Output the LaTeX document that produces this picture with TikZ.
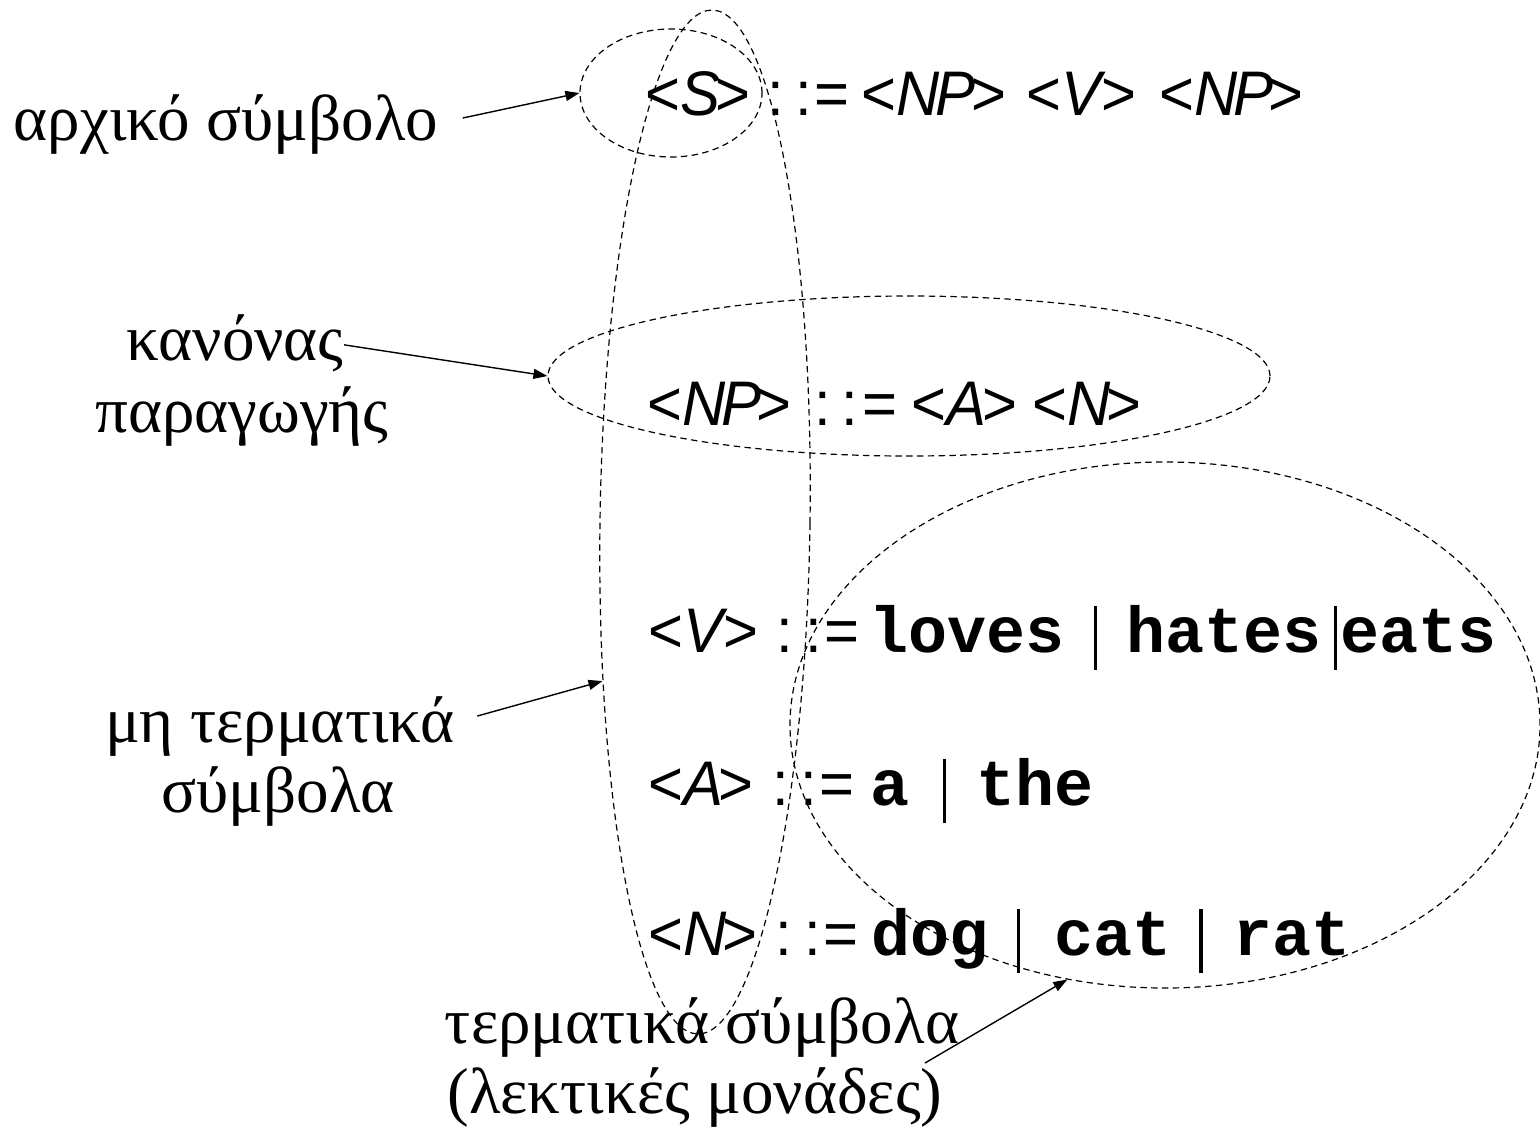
\documentclass[tikz,border=0pt]{standalone}
\usepackage{fontspec}
\setmainfont{Liberation Serif}
\newfontfamily\gramfont[LetterSpace=-7,FakeStretch=0.95]{Liberation Sans}
\newfontfamily\termfont{Liberation Mono}
\usetikzlibrary{arrows.meta,shapes.geometric}
\newcommand{\nt}[1]{<\textit{#1}>}
\newcommand{\tm}[1]{{\termfont\fontsize{32.5}{36}\selectfont\bfseries #1}}
\newcommand{\bbar}{\rule[-9pt]{1.6pt}{32pt}}
\begin{document}
\begin{tikzpicture}[x=0.5pt,y=-0.5pt,
  greek/.style={font=\fontsize{32.5}{36}\selectfont, inner sep=0pt, anchor=base},
  gram/.style={font=\fontsize{31.5}{36}\gramfont, inner sep=0pt, anchor=base west},
  ring/.style={draw, ellipse, dash pattern=on 3.2pt off 2.2pt, line width=0.6pt, inner sep=0pt},
  ptr/.style={-{Triangle[length=7pt,width=5pt]}, line width=0.7pt}]
\useasboundingbox (0,0) rectangle (1540,1131);

% grammar rules
\node[gram] (r1) at (645,115) {\nt{S}\hspace{8.2pt}:\hspace{6pt}:\hspace{1.2pt}=\hspace{6pt}\nt{NP}\hspace{10pt}\nt{V}\hspace{11.8pt}\nt{NP}};
\node[gram] (r2) at (647,425) {\nt{NP}\hspace{11.5pt}:\hspace{5pt}:\hspace{2.2pt}=\hspace{7.3pt}\nt{A}\hspace{7.8pt}\nt{N}};
\node[gram] (r3) at (648,652) {\nt{V}\hspace{9.2pt}:\hspace{6pt}:\hspace{1.2pt}=\hspace{5pt}\tm{loves}\hspace{14.5pt}\bbar\hspace{15pt}\tm{hates}\hspace{6pt}\bbar\hspace{2pt}\tm{eats}};
\node[gram] (r4) at (648,805) {\nt{A}\hspace{9.2pt}:\hspace{6pt}:\hspace{1.2pt}=\hspace{8pt}\tm{a}\hspace{16.5pt}\bbar\hspace{15pt}\tm{the}};
\node[gram] (r5) at (648,955) {\nt{N}\hspace{9.2pt}:\hspace{6pt}:\hspace{1.2pt}=\hspace{6.5pt}\tm{dog}\hspace{14.5pt}\bbar\hspace{17pt}\tm{cat}\hspace{14pt}\bbar\hspace{15.5pt}\tm{rat}};

% ellipses
\node[ring, minimum width=91pt, minimum height=64pt] (eS) at (671,93) {};
\node[ring, minimum width=105pt, minimum height=512pt, rotate=-0.8] (eT) at (705,522) {};
\node[ring, minimum width=361pt, minimum height=80pt] (eNP) at (909,376) {};
\node[ring, minimum width=375pt, minimum height=263pt] (eR) at (1165,725) {};

% labels
\node[greek] (l1) at (226,140) {αρχικό σύμβολο};
\node[greek] (l2a) at (235,360) {κανόνας};
\node[greek] (l2b) at (242,432) {παραγωγής};
\node[greek] (l3a) at (280,742) {μη τερματικά};
\node[greek] (l3b) at (278,812) {σύμβολα};
\node[greek] (l4a) at (702,1043) {τερματικά σύμβολα};
\node[greek] (l4b) at (695,1113) {(λεκτικές μονάδες)};
\coordinate (t4) at (925,1063);

% arrows
\draw[ptr] ([xshift=12pt,yshift=3pt]l1.east) -- (eS.west);
\draw[ptr] ([yshift=-1pt]l2a.east) -- (eNP.west);
\draw[ptr] ([xshift=11pt,yshift=5pt]l3a.east) -- (eT.238);
\draw[ptr] (t4) -- (eR.249);
\end{tikzpicture}
\end{document}
